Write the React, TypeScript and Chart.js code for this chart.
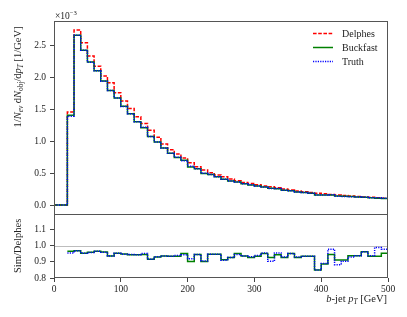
import React, { useEffect, useRef } from 'react';
import { Chart, registerables } from 'chart.js';

Chart.register(...registerables);

// ---------- data ----------
const binEdges = [
  0, 10, 20, 30, 40, 50, 60, 70, 80, 90, 100, 110, 120, 130, 140, 150, 160, 170, 180, 190,
  200, 210, 220, 230, 240, 250, 260, 270, 280, 290, 300, 310, 320, 330, 340, 350, 360, 370, 380, 390,
  400, 410, 420, 430, 440, 450, 460, 470, 480, 490, 500,
];

// Delphes, 1/N dN/dpT in units of 1e-3, bins 0..500 GeV (10 GeV)
const delphes = [
  0, 0, 1.453, 2.734, 2.536, 2.328, 2.17, 2.016, 1.91, 1.755,
  1.625, 1.51, 1.38, 1.276, 1.17, 1.058, 0.953, 0.864, 0.797, 0.735,
  0.66, 0.6, 0.547, 0.505, 0.469, 0.443, 0.406, 0.38, 0.354, 0.339,
  0.318, 0.297, 0.286, 0.271, 0.25, 0.237, 0.222, 0.21, 0.198, 0.187,
  0.178, 0.167, 0.158, 0.15, 0.142, 0.135, 0.127, 0.121, 0.115, 0.109,
];

// Sim/Delphes ratios, bins 20..500 GeV
const ratioBuckfast = [
  0.966, 0.97, 0.954, 0.96, 0.966, 0.962, 0.937, 0.954, 0.95, 0.944,
  0.944, 0.947, 0.916, 0.931, 0.937, 0.935, 0.935, 0.952, 0.902, 0.946,
  0.903, 0.948, 0.948, 0.914, 0.927, 0.952, 0.937, 0.927, 0.935, 0.952,
  0.927, 0.944, 0.927, 0.952, 0.927, 0.935, 0.935, 0.85, 0.887, 0.946,
  0.912, 0.912, 0.939, 0.939, 0.964, 0.935, 0.935, 0.954,
];
const ratioTruth = [
  0.956, 0.97, 0.954, 0.958, 0.966, 0.96, 0.937, 0.954, 0.948, 0.946,
  0.944, 0.952, 0.916, 0.933, 0.937, 0.935, 0.94, 0.945, 0.92, 0.946,
  0.906, 0.948, 0.948, 0.91, 0.927, 0.946, 0.937, 0.932, 0.94, 0.956,
  0.904, 0.956, 0.93, 0.952, 0.93, 0.935, 0.935, 0.85, 0.89, 0.979,
  0.883, 0.905, 0.93, 0.939, 0.964, 0.938, 0.99, 0.979,
];
const ratioStartIndex = 2; // ratio bins start at binEdges[2] = 20 GeV

const seriesNames = ['Delphes', 'Buckfast', 'Truth'];
const seriesColors = ['#ff0000', '#008000', '#0000ff'];
const xTicks = [0, 100, 200, 300, 400, 500];
const yMainTicks = [0, 0.5, 1.0, 1.5, 2.0, 2.5];
const yRatioTicks = [0.8, 0.9, 1.0, 1.1];

// ---------- helpers ----------
const FONT = "'Liberation Serif', 'DejaVu Serif', serif";
const FS = 9.5; // tick labels
const FT = 10.5; // axis titles
const FL = 10; // legend
const TXT = '#222';

type Seg = { t: string; it?: boolean; sub?: boolean; sup?: boolean };

function setFont(ctx: CanvasRenderingContext2D, size: number, italic?: boolean) {
  ctx.font = `${italic ? 'italic ' : ''}${size}px ${FONT}`;
}
function measureRich(ctx: CanvasRenderingContext2D, segs: Seg[], size: number) {
  let w = 0;
  for (const s of segs) {
    setFont(ctx, s.sub || s.sup ? size * 0.7 : size, s.it);
    w += ctx.measureText(s.t).width;
  }
  return w;
}
function drawRich(ctx: CanvasRenderingContext2D, segs: Seg[], size: number, x: number, y: number) {
  let cx = x;
  ctx.textBaseline = 'alphabetic';
  ctx.textAlign = 'left';
  for (const s of segs) {
    const fs = s.sub || s.sup ? size * 0.7 : size;
    setFont(ctx, fs, s.it);
    const dy = s.sub ? size * 0.25 : s.sup ? -size * 0.42 : 0;
    ctx.fillText(s.t, cx, y + dy);
    cx += ctx.measureText(s.t).width;
  }
}

function stepPoints(vals: number[], start: number) {
  const pts = vals.map((v, i) => ({ x: binEdges[start + i], y: v }));
  pts.push({ x: binEdges[start + vals.length], y: vals[vals.length - 1] });
  return pts;
}

const yTitle: Seg[] = [
  { t: '1/' }, { t: 'N', it: true }, { t: 'ev', it: true, sub: true }, { t: ' d' },
  { t: 'N', it: true }, { t: 'obj', sub: true }, { t: '/d' }, { t: 'p', it: true },
  { t: 'T', it: true, sub: true }, { t: ' [1/GeV]' },
];
const ratioTitle: Seg[] = [{ t: 'Sim/Delphes' }];
const xTitle: Seg[] = [
  { t: 'b', it: true }, { t: '-jet ' }, { t: 'p', it: true }, { t: 'T', it: true, sub: true }, { t: ' [GeV]' },
];

const decorPlugin = {
  id: 'decor',
  beforeDatasetsDraw(chart: any) {
    const ctx = chart.ctx as CanvasRenderingContext2D;
    const y2 = chart.scales.y2;
    const { left, right } = chart.chartArea;
    const yy = Math.round(y2.getPixelForValue(1.0)) + 0.5;
    ctx.save();
    ctx.strokeStyle = '#bdbdbd';
    ctx.lineWidth = 1;
    ctx.beginPath();
    ctx.moveTo(left, yy);
    ctx.lineTo(right, yy);
    ctx.stroke();
    ctx.restore();
  },
  afterDraw(chart: any) {
    const ctx = chart.ctx as CanvasRenderingContext2D;
    const { left, right } = chart.chartArea;
    const ym = chart.scales.y;
    const yr = chart.scales.y2;
    ctx.save();
    // frames
    ctx.strokeStyle = '#555';
    ctx.lineWidth = 1;
    const L = Math.round(left) + 0.5;
    const R = Math.round(right) - 0.5;
    ctx.strokeRect(L, Math.round(ym.top) + 0.5, R - L, Math.round(ym.bottom) - Math.round(ym.top));
    ctx.strokeRect(L, Math.round(yr.top) + 0.5, R - L, Math.round(yr.bottom) - Math.round(yr.top) - 1);

    ctx.fillStyle = TXT;
    // y title (main)
    ctx.save();
    ctx.translate(17, 77);
    ctx.rotate(-Math.PI / 2);
    let w = measureRich(ctx, yTitle, FT);
    drawRich(ctx, yTitle, FT, -w / 2, FT * 0.35);
    ctx.restore();
    // ratio title
    ctx.save();
    ctx.translate(17, (yr.top + yr.bottom) / 2);
    ctx.rotate(-Math.PI / 2);
    w = measureRich(ctx, ratioTitle, FT);
    drawRich(ctx, ratioTitle, FT, -w / 2, FT * 0.35);
    ctx.restore();
    // x title
    w = measureRich(ctx, xTitle, FT);
    drawRich(ctx, xTitle, FT, right - 1 - w, 301.5);
    // multiplier
    drawRich(ctx, [{ t: '\u00d710' }, { t: '\u22123', sup: true }], FS, left + 1, 18.5);

    // legend
    const lx0 = 313;
    const lx1 = 333;
    const rows = [33.5, 47.5, 61.5];
    const dashes = [[3.6, 1.6], [], [1.2, 1.2]];
    for (let i = 0; i < 3; i++) {
      ctx.strokeStyle = seriesColors[i];
      ctx.lineWidth = 1.5;
      ctx.setLineDash(dashes[i]);
      ctx.beginPath();
      ctx.moveTo(lx0, rows[i]);
      ctx.lineTo(lx1, rows[i]);
      ctx.stroke();
      ctx.setLineDash([]);
      drawRich(ctx, [{ t: seriesNames[i] }], FL, 342, rows[i] + 3.4);
    }
    ctx.restore();
  },
};

export default function App() {
  const ref = useRef<HTMLCanvasElement | null>(null);

  useEffect(() => {
    if (!ref.current) return;
    const mainBuck = delphes.map((v, i) =>
      i < ratioStartIndex ? 0 : v * ratioBuckfast[i - ratioStartIndex]);
    const mainTruth = delphes.map((v, i) =>
      i < ratioStartIndex ? 0 : v * ratioTruth[i - ratioStartIndex]);

    const common = { pointRadius: 0, borderWidth: 1.5, stepped: 'before' as const, fill: false, tension: 0 };
    const tickFont = { family: FONT, size: FS };

    const chart = new Chart(ref.current, {
      type: 'line',
      data: {
        datasets: [
          { ...common, label: 'Truth', data: stepPoints(mainTruth, 0), borderColor: seriesColors[2], borderDash: [1.2, 1.2], yAxisID: 'y', order: 0 },
          { ...common, label: 'Buckfast', data: stepPoints(mainBuck, 0), borderColor: seriesColors[1], yAxisID: 'y', order: 1 },
          { ...common, label: 'Delphes', data: stepPoints(delphes, 0), borderColor: seriesColors[0], borderDash: [3.6, 1.6], yAxisID: 'y', order: 2 },
          { ...common, label: 'Truth/Delphes', data: stepPoints(ratioTruth, ratioStartIndex), borderColor: seriesColors[2], borderDash: [1.2, 1.2], yAxisID: 'y2', order: 0 },
          { ...common, label: 'Buckfast/Delphes', data: stepPoints(ratioBuckfast, ratioStartIndex), borderColor: seriesColors[1], yAxisID: 'y2', order: 1 },
        ],
      },
      options: {
        animation: false,
        responsive: false,
        devicePixelRatio: 1,
        layout: { padding: { top: 21, right: 19, left: 0, bottom: 0 } },
        plugins: { legend: { display: false }, tooltip: { enabled: false } },
        scales: {
          x: {
            type: 'linear',
            min: 0,
            max: 500,
            position: 'bottom',
            afterBuildTicks: (s: any) => { s.ticks = xTicks.map((v) => ({ value: v })); },
            afterFit: (s: any) => { s.height = 39; },
            ticks: { font: tickFont, color: TXT, padding: 2, maxRotation: 0, autoSkip: false, callback: (v: any) => String(v) },
            grid: { drawOnChartArea: false, drawTicks: true, tickLength: 4, tickColor: '#444' },
            border: { display: false },
          },
          y: {
            type: 'linear',
            position: 'left',
            stack: 'v',
            stackWeight: 3,
            weight: 2,
            min: -0.135,
            max: 2.875,
            afterBuildTicks: (s: any) => { s.ticks = yMainTicks.map((v) => ({ value: v })); },
            afterFit: (s: any) => { s.width = 54; },
            ticks: { font: tickFont, color: TXT, padding: 4, autoSkip: false, callback: (v: any) => Number(v).toFixed(1) },
            grid: { drawOnChartArea: false, drawTicks: true, tickLength: 4, tickColor: '#444' },
            border: { display: false },
          },
          y2: {
            type: 'linear',
            position: 'left',
            stack: 'v',
            stackWeight: 1,
            weight: 1,
            min: 0.8,
            max: 1.2,
            afterBuildTicks: (s: any) => { s.ticks = yRatioTicks.map((v) => ({ value: v })); },
            afterFit: (s: any) => { s.width = 54; },
            ticks: { font: tickFont, color: TXT, padding: 4, autoSkip: false, callback: (v: any) => Number(v).toFixed(1) },
            grid: { drawOnChartArea: false, drawTicks: true, tickLength: 4, tickColor: '#444' },
            border: { display: false },
          },
        },
      } as any,
      plugins: [decorPlugin],
    });
    return () => chart.destroy();
  }, []);

  return (
    <div style={{ position: 'absolute', left: 0, top: 0, width: 407, height: 317, background: '#fff' }}>
      <canvas ref={ref} width={407} height={317} style={{ display: 'block', width: 407, height: 317 }} />
    </div>
  );
}
